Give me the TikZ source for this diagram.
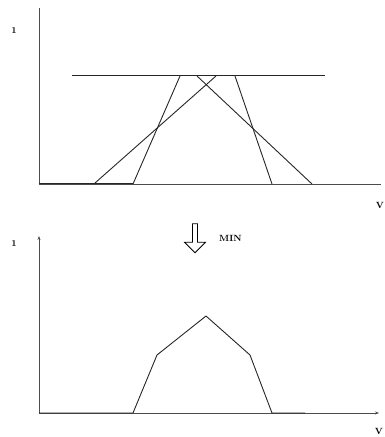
\documentclass[tikz,border=0pt]{standalone}
\usetikzlibrary{arrows.meta,shapes.arrows}
\begin{document}
\begin{tikzpicture}[x=1pt,y=-1pt,
  axis/.style={draw=black!70,line width=0.7pt},
  curve/.style={draw=black!85,line width=0.9pt,line join=round},
  lbl/.style={font=\small\bfseries,inner sep=0pt}]
\useasboundingbox (0,0) rectangle (384,437);
% top plot
\draw[axis] (39,8) -- (39,184);
\draw[axis] (39,184) -- (381,184);
\node[lbl] (one1) at (14,31) {1};
\node[lbl] (v1) at (380,205) {V};
\draw[curve] (72,75) -- (325,75);
\draw[curve] (39,183) -- (133,183);
\draw[curve] (95,183) -- (216,76);
\draw[curve] (197,76) -- (312,184);
\draw[curve] (133,184) -- (180,76);
\draw[curve] (235,76) -- (272,184);
% arrow MIN
\node[single arrow,draw=black,line width=0.8pt,shape border rotate=270,
  minimum height=29pt,minimum width=21pt,single arrow head extend=3pt,
  inner sep=0.5pt] (arr) at (195,237) {};
\node[lbl,anchor=west] (min) at (219,238) {MIN};
% bottom plot
\draw[axis,-{Stealth[length=4pt,width=3pt]}] (39,413) -- (39,236);
\draw[axis,-{Stealth[length=4pt,width=3pt]}] (39,413) -- (379,413);
\node[lbl] (one2) at (14,244) {1};
\node[lbl] (v2) at (379,431) {V};
\draw[curve] (39,413) -- (133,413) -- (157,355) -- (206,316) -- (250,355) -- (272,413) -- (305,413);
\end{tikzpicture}
\end{document}
